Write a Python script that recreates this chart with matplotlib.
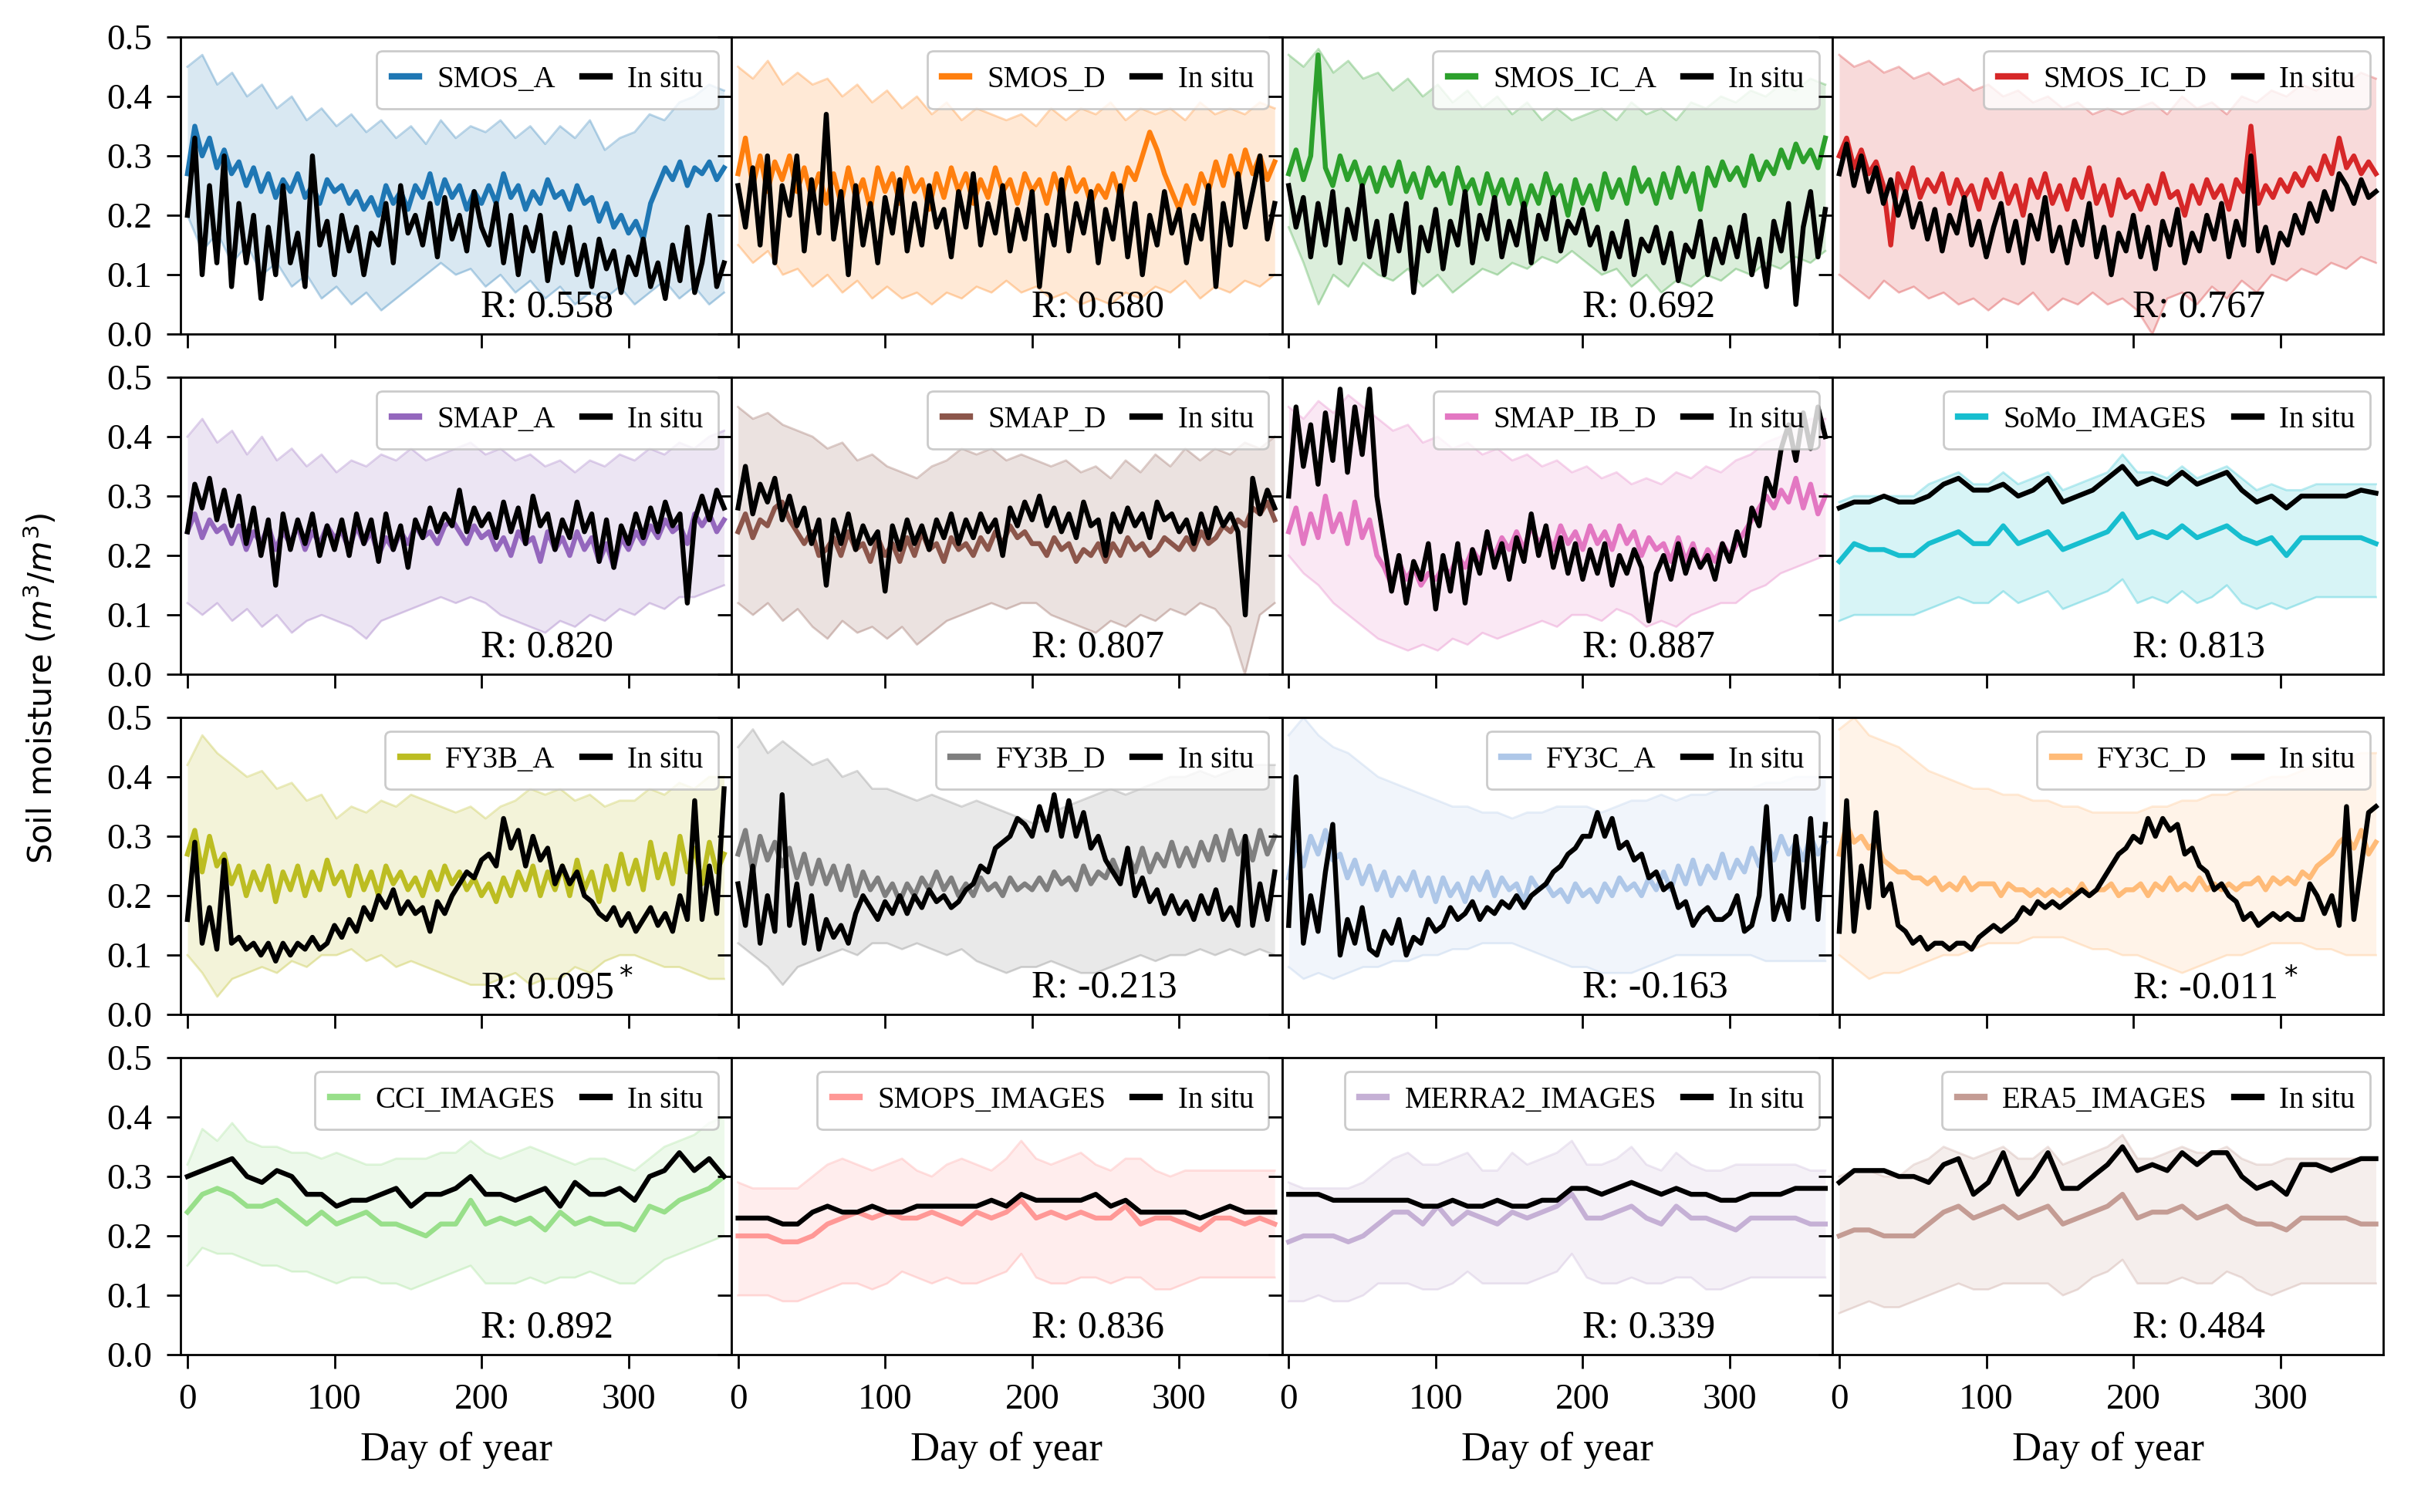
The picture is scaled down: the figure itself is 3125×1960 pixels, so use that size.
import numpy as np
import matplotlib
matplotlib.use("Agg")
import matplotlib.pyplot as plt
from matplotlib.ticker import FormatStrFormatter

plt.rcParams['font.family'] = ['Liberation Serif', 'DejaVu Serif']

# ---- data (soil moisture, m3/m3) ----
# lines: 74 points over day 0..365, bands: 37 points over day 0..365

smos_a_mean = [0.27,0.35,0.30,0.33,0.28,0.31,0.27, 0.29,0.25,0.28,0.24,0.27,0.23,
    0.26,0.24,0.27,0.23,0.25,0.22,0.26,0.24, 0.25,0.22,0.24,0.21,0.23,0.20,0.25,0.22,0.24,0.21,
    0.25,0.23,0.27,0.22,0.26,0.23,0.25,0.21,0.24,0.22, 0.25,0.22,0.27,0.23,0.25,0.21,0.24,0.22,0.26,0.23,
    0.24,0.21,0.25,0.22,0.23,0.19,0.22,0.18,0.20,0.17, 0.19,0.16,0.22,0.25,0.28,0.26,0.29,0.25,0.28,
    0.27,0.29,0.26,0.28]
smos_a_insitu = [0.20,0.33,0.10,0.25,0.12,0.30,0.08, 0.22,0.12,0.20,0.06,0.18,0.10,
    0.25,0.12,0.17,0.08,0.30,0.15,0.19,0.10, 0.20,0.14,0.18,0.10,0.17,0.15,0.22,0.12,0.25,0.17,
    0.20,0.15,0.22,0.13,0.23,0.16,0.20,0.14,0.24,0.18, 0.15,0.22,0.12,0.20,0.10,0.18,0.14,0.20,0.09,0.17,
    0.12,0.18,0.10,0.15,0.08,0.16,0.11,0.14,0.07,0.13, 0.10,0.16,0.08,0.12,0.06,0.15,0.09,0.18,0.07,
    0.12,0.20,0.08,0.12]
smos_a_hi = [0.45,0.47,0.42,0.44,0.40,0.42,0.38,0.40,0.36,0.38, 0.35,0.37,0.34,0.36,0.33,0.35,0.32,0.36,0.33,0.35,
    0.34,0.36,0.33,0.35,0.32,0.35,0.33,0.36,0.31,0.33, 0.34,0.37,0.36,0.39,0.40,0.42,0.41]
smos_a_lo = [0.20,0.14,0.17,0.12,0.15,0.10,0.12,0.08,0.10,0.06, 0.08,0.05,0.07,0.04,0.06,0.08,0.10,0.12,0.10,0.11,
    0.08,0.10,0.07,0.09,0.06,0.08,0.05,0.07,0.06,0.08, 0.05,0.07,0.09,0.06,0.08,0.05,0.07]

smos_d_mean = [0.27,0.33,0.25,0.30,0.24,0.29,0.26, 0.30,0.24,0.28,0.23,0.27,0.22,
    0.27,0.22,0.28,0.23,0.26,0.21,0.28,0.24, 0.27,0.22,0.28,0.24,0.26,0.21,0.27,0.23,0.28,0.24,
    0.27,0.22,0.26,0.23,0.28,0.24,0.26,0.22,0.27,0.24, 0.26,0.22,0.27,0.23,0.28,0.24,0.26,0.22,0.25,0.23,
    0.27,0.23,0.28,0.26,0.30,0.34,0.31,0.27,0.24,0.21, 0.25,0.22,0.27,0.24,0.29,0.25,0.30,0.26,0.31,
    0.27,0.30,0.26,0.29]
smos_d_insitu = [0.25,0.18,0.28,0.15,0.30,0.12,0.25, 0.20,0.30,0.14,0.26,0.17,0.37,
    0.16,0.24,0.10,0.25,0.15,0.22,0.12,0.23, 0.17,0.26,0.14,0.22,0.15,0.25,0.18,0.21,0.13,0.24,
    0.18,0.27,0.15,0.22,0.17,0.25,0.14,0.21,0.16,0.24, 0.08,0.20,0.15,0.26,0.14,0.22,0.17,0.24,0.12,0.21,
    0.16,0.25,0.13,0.22,0.10,0.20,0.15,0.24,0.17,0.21, 0.12,0.20,0.16,0.25,0.08,0.22,0.15,0.27,0.18,
    0.24,0.30,0.16,0.22]
smos_d_hi = [0.45,0.43,0.46,0.42,0.44,0.42,0.43,0.40,0.42,0.39, 0.41,0.38,0.40,0.37,0.39,0.36,0.38,0.37,0.36,0.37,
    0.35,0.38,0.36,0.38,0.37,0.39,0.36,0.38,0.37,0.38, 0.36,0.39,0.37,0.38,0.37,0.39,0.38]
smos_d_lo = [0.15,0.12,0.14,0.10,0.11,0.08,0.10,0.07,0.09,0.06, 0.08,0.06,0.07,0.05,0.07,0.06,0.08,0.07,0.09,0.07,
    0.08,0.06,0.07,0.05,0.06,0.05,0.07,0.06,0.08,0.07, 0.09,0.06,0.08,0.07,0.09,0.08,0.10]

smos_ic_a_mean = [0.27,0.31,0.26,0.30,0.47,0.28,0.25, 0.30,0.26,0.29,0.25,0.28,0.24,
    0.28,0.25,0.29,0.24,0.27,0.23,0.28,0.25, 0.27,0.22,0.28,0.24,0.26,0.22,0.27,0.23,0.26,0.22,
    0.26,0.21,0.25,0.22,0.27,0.23,0.25,0.20,0.26,0.22, 0.25,0.21,0.27,0.23,0.26,0.22,0.28,0.24,0.26,0.22,
    0.27,0.23,0.28,0.24,0.27,0.21,0.28,0.25,0.29,0.26, 0.28,0.25,0.30,0.26,0.29,0.27,0.31,0.28,0.32,
    0.29,0.31,0.28,0.33]
smos_ic_a_insitu = [0.25,0.18,0.23,0.13,0.22,0.15,0.24, 0.12,0.21,0.16,0.25,0.13,0.19,
    0.10,0.20,0.14,0.22,0.07,0.18,0.14,0.21, 0.11,0.19,0.15,0.24,0.12,0.20,0.16,0.23,0.13,0.19,
    0.15,0.22,0.12,0.20,0.16,0.23,0.14,0.19,0.17,0.21, 0.15,0.18,0.11,0.17,0.13,0.19,0.10,0.16,0.14,0.18,
    0.12,0.17,0.09,0.15,0.13,0.19,0.10,0.16,0.12,0.18, 0.13,0.20,0.10,0.16,0.08,0.19,0.14,0.22,0.05,
    0.18,0.24,0.13,0.21]
smos_ic_a_hi = [0.47,0.45,0.48,0.44,0.46,0.43,0.44,0.41,0.43,0.40, 0.42,0.39,0.41,0.38,0.40,0.37,0.39,0.36,0.38,0.36,
    0.37,0.38,0.36,0.39,0.37,0.38,0.36,0.39,0.38,0.40, 0.39,0.41,0.40,0.42,0.41,0.43,0.42]
smos_ic_a_lo = [0.18,0.12,0.05,0.10,0.08,0.12,0.10,0.09,0.11,0.08, 0.10,0.07,0.09,0.11,0.10,0.12,0.11,0.13,0.12,0.14,
    0.12,0.10,0.11,0.08,0.10,0.07,0.09,0.08,0.10,0.09, 0.11,0.10,0.12,0.11,0.13,0.12,0.14]

smos_ic_d_mean = [0.30,0.33,0.28,0.31,0.27,0.29,0.25, 0.15,0.27,0.24,0.28,0.23,0.26,
    0.24,0.27,0.22,0.26,0.23,0.25,0.21,0.26, 0.23,0.27,0.22,0.25,0.20,0.26,0.23,0.27,0.22,0.25,
    0.21,0.26,0.23,0.28,0.22,0.25,0.20,0.26,0.23,0.24, 0.21,0.25,0.22,0.27,0.23,0.24,0.20,0.25,0.22,0.26,
    0.23,0.25,0.21,0.26,0.24,0.35,0.22,0.25,0.23,0.26, 0.24,0.27,0.25,0.28,0.26,0.30,0.27,0.33,0.28,
    0.30,0.27,0.29,0.27]
smos_ic_d_insitu = [0.27,0.32,0.25,0.30,0.24,0.28,0.22, 0.26,0.20,0.24,0.18,0.22,0.16,
    0.21,0.14,0.20,0.17,0.23,0.15,0.19,0.13, 0.18,0.22,0.14,0.19,0.12,0.20,0.16,0.23,0.14,0.18,
    0.12,0.19,0.15,0.22,0.13,0.18,0.10,0.17,0.14,0.20, 0.13,0.18,0.11,0.19,0.15,0.21,0.12,0.17,0.14,0.20,
    0.16,0.22,0.13,0.19,0.15,0.30,0.14,0.18,0.12,0.17, 0.15,0.20,0.17,0.22,0.19,0.24,0.21,0.27,0.25,
    0.22,0.26,0.23,0.24]
smos_ic_d_hi = [0.47,0.45,0.46,0.44,0.45,0.43,0.44,0.42,0.43,0.41, 0.42,0.40,0.41,0.39,0.40,0.38,0.39,0.37,0.38,0.37,
    0.38,0.39,0.37,0.40,0.38,0.39,0.37,0.40,0.39,0.41, 0.40,0.42,0.41,0.43,0.42,0.44,0.43]
smos_ic_d_lo = [0.10,0.08,0.06,0.09,0.07,0.08,0.06,0.07,0.05,0.06, 0.04,0.06,0.05,0.07,0.04,0.06,0.05,0.07,0.05,0.06,
    0.04,0.00,0.06,0.07,0.05,0.08,0.06,0.09,0.07,0.10, 0.09,0.11,0.10,0.12,0.11,0.13,0.12]

smap_a_mean = [0.24,0.27,0.23,0.26,0.24,0.25,0.22, 0.25,0.21,0.24,0.22,0.25,0.21,
    0.24,0.22,0.25,0.21,0.24,0.22,0.25,0.23, 0.24,0.21,0.25,0.22,0.24,0.20,0.23,0.21,0.24,0.22,
    0.25,0.23,0.24,0.22,0.25,0.26,0.24,0.22,0.25,0.23, 0.24,0.21,0.23,0.20,0.24,0.22,0.23,0.19,0.24,0.21,
    0.23,0.20,0.24,0.21,0.23,0.19,0.22,0.18,0.23,0.21, 0.24,0.22,0.25,0.23,0.26,0.24,0.25,0.22,0.27,
    0.25,0.27,0.24,0.26]
smap_a_insitu = [0.24,0.32,0.28,0.33,0.26,0.31,0.25, 0.30,0.22,0.28,0.20,0.26,0.15,
    0.27,0.21,0.26,0.22,0.27,0.20,0.25,0.21, 0.26,0.20,0.27,0.22,0.26,0.19,0.27,0.21,0.25,0.18,
    0.26,0.23,0.28,0.24,0.27,0.25,0.31,0.24,0.28,0.25, 0.27,0.23,0.29,0.24,0.28,0.22,0.30,0.25,0.27,0.21,
    0.26,0.23,0.29,0.24,0.27,0.19,0.26,0.18,0.25,0.22, 0.27,0.23,0.28,0.24,0.29,0.25,0.27,0.12,0.26,
    0.30,0.26,0.31,0.28]
smap_a_hi = [0.40,0.43,0.39,0.41,0.37,0.40,0.36,0.38,0.35,0.37, 0.34,0.36,0.35,0.37,0.36,0.38,0.36,0.37,0.38,0.39,
    0.37,0.38,0.36,0.37,0.35,0.36,0.34,0.36,0.35,0.37, 0.36,0.38,0.37,0.39,0.38,0.40,0.41]
smap_a_lo = [0.12,0.10,0.12,0.09,0.11,0.08,0.10,0.07,0.09,0.10, 0.09,0.08,0.06,0.09,0.10,0.11,0.12,0.13,0.12,0.13,
    0.12,0.10,0.09,0.08,0.07,0.09,0.08,0.10,0.09,0.11, 0.10,0.12,0.11,0.13,0.13,0.14,0.15]

smap_d_mean = [0.24,0.27,0.23,0.26,0.25,0.28,0.29, 0.26,0.24,0.22,0.24,0.20,0.21,
    0.23,0.20,0.24,0.21,0.22,0.19,0.23,0.20, 0.22,0.19,0.23,0.20,0.24,0.21,0.22,0.19,0.23,0.21,
    0.22,0.20,0.23,0.21,0.24,0.22,0.25,0.23,0.24,0.22, 0.22,0.20,0.23,0.21,0.22,0.19,0.21,0.20,0.22,0.19,
    0.22,0.20,0.23,0.21,0.22,0.20,0.21,0.23,0.22,0.21, 0.23,0.21,0.24,0.22,0.23,0.25,0.24,0.26,0.25,
    0.28,0.27,0.29,0.26]
smap_d_insitu = [0.28,0.35,0.27,0.32,0.29,0.33,0.26, 0.30,0.25,0.28,0.22,0.26,0.15,
    0.26,0.22,0.27,0.21,0.25,0.22,0.24,0.14, 0.25,0.21,0.26,0.22,0.25,0.21,0.26,0.23,0.27,0.22,
    0.26,0.23,0.27,0.24,0.26,0.20,0.28,0.25,0.29,0.26, 0.30,0.25,0.28,0.24,0.27,0.23,0.29,0.25,0.26,0.20,
    0.27,0.24,0.28,0.25,0.27,0.23,0.29,0.26,0.27,0.24, 0.26,0.22,0.27,0.23,0.28,0.25,0.27,0.24,0.10,
    0.33,0.27,0.31,0.28]
smap_d_hi = [0.45,0.43,0.44,0.42,0.41,0.40,0.38,0.39,0.36,0.37, 0.35,0.34,0.33,0.35,0.36,0.38,0.37,0.38,0.36,0.37,
    0.36,0.35,0.36,0.34,0.35,0.33,0.36,0.34,0.37,0.35, 0.38,0.36,0.38,0.37,0.39,0.38,0.40]
smap_d_lo = [0.12,0.10,0.12,0.09,0.11,0.08,0.06,0.09,0.07,0.08, 0.06,0.08,0.05,0.07,0.09,0.10,0.11,0.12,0.11,0.12,
    0.12,0.10,0.09,0.08,0.07,0.09,0.08,0.10,0.09,0.11, 0.10,0.12,0.11,0.08,0.00,0.10,0.12]

smap_ib_d_mean = [0.24,0.28,0.22,0.27,0.23,0.30,0.24, 0.27,0.22,0.29,0.23,0.26,0.20,
    0.18,0.15,0.19,0.16,0.18,0.15,0.17,0.16, 0.18,0.17,0.20,0.18,0.21,0.19,0.22,0.20,0.23,0.21,
    0.24,0.21,0.25,0.22,0.24,0.21,0.25,0.22,0.24,0.21, 0.25,0.22,0.24,0.21,0.25,0.22,0.24,0.20,0.23,0.21,
    0.22,0.19,0.23,0.19,0.22,0.18,0.21,0.19,0.22,0.20, 0.22,0.24,0.26,0.28,0.30,0.28,0.31,0.29,0.33,
    0.28,0.32,0.27,0.30]
smap_ib_d_insitu = [0.30,0.45,0.35,0.42,0.32,0.44,0.36, 0.48,0.34,0.45,0.37,0.48,0.30,
    0.22,0.14,0.20,0.12,0.19,0.16,0.22,0.11, 0.20,0.14,0.22,0.12,0.21,0.17,0.24,0.18,0.22,0.16,
    0.23,0.19,0.27,0.20,0.25,0.18,0.23,0.17,0.22,0.16, 0.21,0.17,0.22,0.15,0.20,0.17,0.21,0.18,0.09,0.17,
    0.20,0.16,0.22,0.17,0.21,0.18,0.20,0.16,0.22,0.19, 0.24,0.20,0.28,0.25,0.33,0.30,0.38,0.42,0.36,
    0.44,0.38,0.45,0.40]
smap_ib_d_hi = [0.45,0.43,0.46,0.44,0.47,0.45,0.43,0.41,0.42,0.39, 0.40,0.38,0.39,0.37,0.38,0.36,0.37,0.35,0.36,0.34,
    0.35,0.33,0.34,0.32,0.33,0.32,0.34,0.33,0.35,0.34, 0.36,0.37,0.39,0.40,0.42,0.43,0.43]
smap_ib_d_lo = [0.20,0.17,0.15,0.12,0.10,0.08,0.06,0.05,0.04,0.05, 0.04,0.06,0.05,0.07,0.06,0.07,0.08,0.09,0.08,0.10,
    0.10,0.09,0.11,0.10,0.08,0.09,0.08,0.10,0.11,0.12, 0.12,0.14,0.15,0.17,0.18,0.19,0.20]

somo_mean = [0.19,0.22,0.21,0.21,0.20,0.20,0.22,0.23,0.24,0.22, 0.22,0.25,0.22,0.23,0.24,0.21,0.22,0.23,0.24,0.27,
    0.23,0.24,0.23,0.25,0.23,0.24,0.25,0.23,0.22,0.23, 0.20,0.23,0.23,0.23,0.23,0.23,0.22]
somo_insitu = [0.28,0.29,0.29,0.30,0.29,0.29,0.30,0.32,0.33,0.31, 0.31,0.32,0.30,0.31,0.33,0.29,0.30,0.31,0.33,0.35,
    0.32,0.33,0.32,0.34,0.32,0.33,0.34,0.31,0.29,0.30, 0.28,0.30,0.30,0.30,0.30,0.31,0.305]
somo_hi = [0.29,0.30,0.30,0.30,0.30,0.30,0.32,0.33,0.34,0.32, 0.32,0.34,0.32,0.33,0.34,0.31,0.32,0.33,0.34,0.37,
    0.34,0.34,0.33,0.35,0.33,0.34,0.35,0.33,0.31,0.32, 0.31,0.31,0.32,0.32,0.32,0.32,0.32]
somo_lo = [0.09,0.10,0.10,0.10,0.10,0.10,0.11,0.12,0.13,0.12, 0.12,0.14,0.12,0.13,0.14,0.11,0.12,0.13,0.14,0.16,
    0.12,0.13,0.12,0.14,0.12,0.13,0.15,0.12,0.11,0.12, 0.11,0.12,0.13,0.13,0.13,0.13,0.13]

fy3b_a_mean = [0.27,0.31,0.24,0.30,0.25,0.27,0.22, 0.25,0.20,0.24,0.21,0.25,0.19,
    0.24,0.21,0.25,0.20,0.24,0.21,0.26,0.22, 0.24,0.20,0.25,0.21,0.24,0.20,0.25,0.22,0.24,0.21,
    0.23,0.20,0.24,0.21,0.25,0.22,0.24,0.21,0.23,0.20, 0.22,0.19,0.23,0.20,0.24,0.21,0.25,0.20,0.24,0.21,
    0.25,0.20,0.26,0.21,0.24,0.19,0.25,0.21,0.27,0.22, 0.26,0.21,0.29,0.23,0.27,0.22,0.30,0.24,0.28,
    0.22,0.29,0.24,0.27]
fy3b_a_insitu = [0.16,0.29,0.12,0.18,0.11,0.26,0.12, 0.13,0.11,0.12,0.10,0.12,0.09,
    0.12,0.10,0.12,0.11,0.13,0.11,0.12,0.15, 0.13,0.16,0.14,0.18,0.16,0.20,0.18,0.21,0.17,0.19,
    0.17,0.18,0.14,0.19,0.17,0.20,0.22,0.24,0.23,0.26, 0.27,0.25,0.33,0.28,0.31,0.25,0.30,0.26,0.28,0.22,
    0.25,0.22,0.24,0.20,0.19,0.17,0.16,0.18,0.15,0.17, 0.14,0.16,0.18,0.15,0.17,0.14,0.20,0.16,0.36,
    0.16,0.25,0.17,0.38]
fy3b_a_hi = [0.42,0.47,0.44,0.42,0.40,0.41,0.38,0.39,0.36,0.37, 0.33,0.35,0.34,0.36,0.35,0.37,0.36,0.35,0.34,0.35,
    0.33,0.35,0.36,0.38,0.37,0.38,0.36,0.37,0.35,0.36, 0.36,0.38,0.37,0.39,0.38,0.40,0.40]
fy3b_a_lo = [0.10,0.07,0.03,0.06,0.07,0.08,0.07,0.09,0.08,0.10, 0.10,0.11,0.09,0.10,0.08,0.09,0.08,0.07,0.06,0.05,
    0.05,0.06,0.07,0.05,0.06,0.06,0.08,0.07,0.09,0.10, 0.10,0.09,0.08,0.08,0.07,0.06,0.06]

fy3b_d_mean = [0.27,0.31,0.24,0.30,0.26,0.29,0.25, 0.28,0.23,0.27,0.22,0.26,0.22,
    0.25,0.21,0.25,0.20,0.24,0.21,0.23,0.20, 0.22,0.19,0.22,0.20,0.23,0.21,0.24,0.21,0.23,0.20,
    0.22,0.20,0.23,0.21,0.22,0.20,0.23,0.21,0.22,0.21, 0.23,0.21,0.24,0.22,0.23,0.21,0.25,0.22,0.24,0.23,
    0.26,0.23,0.27,0.24,0.28,0.24,0.27,0.25,0.29,0.25, 0.28,0.25,0.29,0.26,0.30,0.26,0.31,0.27,0.30,
    0.26,0.31,0.27,0.30]
fy3b_d_insitu = [0.22,0.15,0.25,0.12,0.20,0.14,0.37, 0.15,0.22,0.12,0.20,0.11,0.16,
    0.13,0.15,0.12,0.17,0.20,0.18,0.16,0.19, 0.17,0.20,0.17,0.20,0.18,0.21,0.19,0.20,0.18,0.19,
    0.21,0.22,0.25,0.24,0.28,0.29,0.30,0.33,0.32,0.30, 0.35,0.31,0.37,0.30,0.36,0.30,0.34,0.28,0.30,0.26,
    0.24,0.22,0.28,0.20,0.23,0.19,0.21,0.17,0.20,0.17, 0.19,0.16,0.20,0.17,0.21,0.16,0.18,0.15,0.30,
    0.15,0.22,0.16,0.24]
fy3b_d_hi = [0.45,0.48,0.44,0.46,0.44,0.42,0.43,0.40,0.41,0.38, 0.38,0.37,0.36,0.37,0.36,0.35,0.36,0.35,0.34,0.33,
    0.32,0.34,0.35,0.36,0.37,0.38,0.37,0.38,0.39,0.40, 0.40,0.41,0.40,0.41,0.42,0.42,0.42]
fy3b_d_lo = [0.12,0.10,0.08,0.05,0.08,0.09,0.10,0.11,0.10,0.12, 0.12,0.11,0.12,0.11,0.10,0.11,0.09,0.08,0.07,0.08,
    0.08,0.09,0.08,0.07,0.07,0.08,0.09,0.10,0.09,0.10, 0.10,0.11,0.10,0.11,0.10,0.11,0.10]

fy3c_a_mean = [0.23,0.29,0.25,0.30,0.27,0.31,0.26, 0.27,0.23,0.26,0.22,0.25,0.21,
    0.24,0.20,0.23,0.21,0.24,0.20,0.23,0.19, 0.23,0.20,0.22,0.19,0.23,0.21,0.24,0.20,0.23,0.21,
    0.22,0.19,0.23,0.21,0.22,0.20,0.21,0.19,0.22,0.20, 0.21,0.19,0.22,0.20,0.23,0.21,0.22,0.20,0.23,0.21,
    0.24,0.21,0.25,0.22,0.26,0.22,0.25,0.23,0.27,0.23, 0.26,0.24,0.28,0.25,0.29,0.26,0.30,0.27,0.29,
    0.26,0.30,0.27,0.29]
fy3c_a_insitu = [0.15,0.40,0.12,0.20,0.14,0.24,0.32, 0.10,0.16,0.12,0.18,0.11,0.10,
    0.14,0.12,0.16,0.10,0.13,0.12,0.16,0.14, 0.15,0.18,0.16,0.17,0.19,0.16,0.18,0.17,0.19,0.18,
    0.20,0.18,0.20,0.21,0.22,0.24,0.25,0.27,0.28,0.30, 0.30,0.34,0.30,0.33,0.28,0.29,0.26,0.27,0.23,0.24,
    0.21,0.22,0.18,0.19,0.15,0.17,0.18,0.16,0.16,0.17, 0.20,0.14,0.15,0.20,0.35,0.16,0.20,0.16,0.30,
    0.18,0.33,0.16,0.32]
fy3c_a_hi = [0.47,0.50,0.47,0.45,0.44,0.42,0.40,0.39,0.38,0.37, 0.36,0.35,0.35,0.34,0.34,0.33,0.34,0.34,0.35,0.35,
    0.35,0.34,0.35,0.36,0.36,0.37,0.36,0.37,0.37,0.38, 0.38,0.38,0.39,0.39,0.40,0.40,0.40]
fy3c_a_lo = [0.08,0.06,0.07,0.06,0.07,0.08,0.08,0.09,0.09,0.10, 0.10,0.11,0.11,0.12,0.12,0.12,0.11,0.10,0.09,0.08,
    0.08,0.07,0.07,0.07,0.08,0.09,0.10,0.10,0.10,0.10, 0.10,0.10,0.09,0.09,0.09,0.09,0.09]

fy3c_d_mean = [0.27,0.32,0.29,0.30,0.28,0.29,0.26, 0.25,0.24,0.24,0.23,0.23,0.22,
    0.23,0.21,0.22,0.21,0.23,0.21,0.22,0.22, 0.22,0.20,0.22,0.21,0.21,0.20,0.21,0.20,0.21,0.20,
    0.21,0.20,0.22,0.20,0.21,0.21,0.22,0.20,0.21,0.21, 0.22,0.20,0.22,0.21,0.23,0.21,0.22,0.21,0.23,0.21,
    0.22,0.21,0.22,0.21,0.22,0.22,0.23,0.21,0.23,0.22, 0.23,0.22,0.24,0.23,0.25,0.26,0.27,0.29,0.30,
    0.28,0.31,0.27,0.29]
fy3c_d_insitu = [0.14,0.36,0.14,0.25,0.18,0.34,0.20, 0.22,0.15,0.14,0.12,0.13,0.11,
    0.12,0.12,0.11,0.12,0.12,0.11,0.13,0.14, 0.15,0.14,0.15,0.16,0.18,0.17,0.19,0.18,0.19,0.18,
    0.19,0.20,0.21,0.20,0.21,0.23,0.25,0.27,0.28,0.30, 0.29,0.33,0.30,0.33,0.31,0.32,0.27,0.28,0.25,0.24,
    0.21,0.22,0.20,0.19,0.16,0.17,0.15,0.16,0.17,0.16, 0.17,0.16,0.16,0.22,0.20,0.17,0.20,0.15,0.35,
    0.16,0.25,0.34,0.35]
fy3c_d_hi = [0.48,0.50,0.47,0.46,0.45,0.43,0.41,0.40,0.39,0.38, 0.38,0.37,0.37,0.36,0.36,0.35,0.35,0.34,0.34,0.34,
    0.34,0.35,0.35,0.36,0.36,0.37,0.37,0.38,0.39,0.40, 0.40,0.41,0.42,0.43,0.43,0.44,0.44]
fy3c_d_lo = [0.10,0.08,0.06,0.07,0.07,0.08,0.09,0.10,0.10,0.11, 0.12,0.12,0.12,0.13,0.13,0.13,0.12,0.11,0.11,0.10,
    0.10,0.09,0.08,0.07,0.08,0.09,0.10,0.10,0.11,0.12, 0.12,0.12,0.11,0.11,0.10,0.10,0.10]

cci_mean = [0.24,0.27,0.28,0.27,0.25,0.25,0.26,0.24,0.22,0.24, 0.22,0.23,0.24,0.22,0.22,0.21,0.20,0.22,0.22,0.26,
    0.22,0.23,0.22,0.23,0.21,0.24,0.22,0.23,0.22,0.22, 0.21,0.25,0.24,0.26,0.27,0.28,0.30]
cci_insitu = [0.30,0.31,0.32,0.33,0.30,0.29,0.31,0.30,0.27,0.27, 0.25,0.26,0.26,0.27,0.28,0.25,0.27,0.27,0.28,0.30,
    0.27,0.27,0.26,0.27,0.28,0.25,0.29,0.27,0.27,0.28, 0.26,0.30,0.31,0.34,0.31,0.33,0.30]
cci_hi = [0.32,0.38,0.36,0.39,0.36,0.35,0.35,0.34,0.34,0.33, 0.34,0.33,0.32,0.32,0.33,0.33,0.33,0.34,0.34,0.36,
    0.34,0.33,0.34,0.35,0.34,0.33,0.32,0.33,0.33,0.32, 0.31,0.33,0.35,0.36,0.37,0.39,0.40]
cci_lo = [0.15,0.18,0.17,0.17,0.16,0.15,0.15,0.14,0.14,0.13, 0.12,0.13,0.13,0.12,0.12,0.11,0.12,0.13,0.14,0.15,
    0.12,0.12,0.12,0.13,0.12,0.13,0.13,0.14,0.13,0.12, 0.12,0.14,0.16,0.17,0.18,0.19,0.20]

smops_mean = [0.20,0.20,0.20,0.19,0.19,0.20,0.22,0.23,0.24,0.23, 0.24,0.23,0.23,0.24,0.23,0.22,0.24,0.23,0.24,0.26,
    0.23,0.24,0.23,0.24,0.23,0.23,0.25,0.22,0.23,0.23, 0.22,0.21,0.23,0.23,0.22,0.23,0.22]
smops_insitu = [0.23,0.23,0.23,0.22,0.22,0.24,0.25,0.24,0.24,0.25, 0.24,0.24,0.25,0.25,0.25,0.25,0.25,0.26,0.25,0.27,
    0.26,0.26,0.26,0.26,0.27,0.25,0.26,0.24,0.24,0.24, 0.24,0.23,0.24,0.25,0.24,0.24,0.24]
smops_hi = [0.29,0.28,0.28,0.28,0.28,0.30,0.32,0.33,0.32,0.31, 0.32,0.33,0.31,0.30,0.32,0.33,0.32,0.31,0.33,0.36,
    0.33,0.32,0.33,0.34,0.32,0.31,0.33,0.33,0.31,0.30, 0.31,0.31,0.31,0.31,0.31,0.31,0.31]
smops_lo = [0.10,0.10,0.10,0.09,0.09,0.10,0.11,0.12,0.12,0.11, 0.12,0.14,0.13,0.12,0.13,0.12,0.12,0.13,0.14,0.17,
    0.13,0.12,0.12,0.13,0.13,0.12,0.13,0.13,0.11,0.11, 0.12,0.13,0.13,0.13,0.13,0.13,0.13]

merra2_mean = [0.19,0.20,0.20,0.20,0.19,0.20,0.22,0.24,0.24,0.22, 0.25,0.22,0.24,0.23,0.22,0.24,0.23,0.24,0.25,0.27,
    0.23,0.23,0.24,0.25,0.23,0.22,0.25,0.23,0.23,0.22, 0.21,0.23,0.23,0.23,0.23,0.22,0.22]
merra2_insitu = [0.27,0.27,0.27,0.26,0.26,0.26,0.26,0.26,0.26,0.25, 0.25,0.26,0.25,0.25,0.26,0.25,0.25,0.26,0.26,0.28,
    0.28,0.27,0.28,0.29,0.28,0.27,0.28,0.27,0.27,0.26, 0.26,0.27,0.27,0.27,0.28,0.28,0.28]
merra2_hi = [0.29,0.28,0.28,0.28,0.28,0.29,0.31,0.33,0.34,0.32, 0.32,0.33,0.34,0.31,0.31,0.34,0.32,0.33,0.34,0.36,
    0.32,0.32,0.33,0.35,0.32,0.31,0.34,0.32,0.31,0.31, 0.32,0.32,0.32,0.32,0.32,0.31,0.31]
merra2_lo = [0.09,0.09,0.10,0.09,0.09,0.10,0.12,0.12,0.12,0.11, 0.11,0.12,0.14,0.12,0.12,0.12,0.12,0.13,0.14,0.17,
    0.13,0.12,0.12,0.13,0.12,0.12,0.13,0.13,0.11,0.11, 0.12,0.13,0.13,0.13,0.13,0.13,0.13]

era5_mean = [0.20,0.21,0.21,0.20,0.20,0.20,0.22,0.24,0.25,0.23, 0.24,0.25,0.23,0.24,0.25,0.22,0.23,0.24,0.25,0.27,
    0.23,0.24,0.24,0.25,0.23,0.24,0.25,0.23,0.22,0.22, 0.21,0.23,0.23,0.23,0.23,0.22,0.22]
era5_insitu = [0.29,0.31,0.31,0.31,0.30,0.30,0.29,0.32,0.33,0.27, 0.29,0.34,0.27,0.30,0.34,0.28,0.28,0.30,0.32,0.35,
    0.31,0.32,0.31,0.34,0.32,0.34,0.34,0.30,0.28,0.29, 0.27,0.32,0.32,0.31,0.32,0.33,0.33]
era5_hi = [0.30,0.31,0.31,0.30,0.30,0.32,0.33,0.35,0.34,0.33, 0.34,0.35,0.33,0.33,0.35,0.32,0.33,0.34,0.35,0.37,
    0.33,0.33,0.34,0.35,0.34,0.34,0.35,0.33,0.32,0.32, 0.33,0.33,0.33,0.33,0.33,0.33,0.33]
era5_lo = [0.07,0.08,0.09,0.08,0.08,0.09,0.10,0.11,0.12,0.11, 0.11,0.12,0.12,0.12,0.12,0.10,0.11,0.13,0.14,0.16,
    0.12,0.12,0.12,0.13,0.12,0.12,0.14,0.13,0.11,0.10, 0.11,0.12,0.12,0.12,0.12,0.12,0.12]

names = ["SMOS_A", "SMOS_D", "SMOS_IC_A", "SMOS_IC_D",
         "SMAP_A", "SMAP_D", "SMAP_IB_D", "SoMo_IMAGES",
         "FY3B_A", "FY3B_D", "FY3C_A", "FY3C_D",
         "CCI_IMAGES", "SMOPS_IMAGES", "MERRA2_IMAGES", "ERA5_IMAGES"]
colors = ["#1f77b4", "#ff7f0e", "#2ca02c", "#d62728",
          "#9467bd", "#8c564b", "#e377c2", "#17becf",
          "#bcbd22", "#7f7f7f", "#aec7e8", "#ffbb78",
          "#98df8a", "#ff9896", "#c5b0d5", "#c49c94"]
r_labels = ["R: 0.558", "R: 0.680", "R: 0.692", "R: 0.767",
            "R: 0.820", "R: 0.807", "R: 0.887", "R: 0.813",
            "R: 0.095$^*$", "R: -0.213", "R: -0.163", "R: -0.011$^*$",
            "R: 0.892", "R: 0.836", "R: 0.339", "R: 0.484"]

means = [smos_a_mean, smos_d_mean, smos_ic_a_mean, smos_ic_d_mean,
         smap_a_mean, smap_d_mean, smap_ib_d_mean, somo_mean,
         fy3b_a_mean, fy3b_d_mean, fy3c_a_mean, fy3c_d_mean,
         cci_mean, smops_mean, merra2_mean, era5_mean]
insitus = [smos_a_insitu, smos_d_insitu, smos_ic_a_insitu, smos_ic_d_insitu,
           smap_a_insitu, smap_d_insitu, smap_ib_d_insitu, somo_insitu,
           fy3b_a_insitu, fy3b_d_insitu, fy3c_a_insitu, fy3c_d_insitu,
           cci_insitu, smops_insitu, merra2_insitu, era5_insitu]
his = [smos_a_hi, smos_d_hi, smos_ic_a_hi, smos_ic_d_hi,
       smap_a_hi, smap_d_hi, smap_ib_d_hi, somo_hi,
       fy3b_a_hi, fy3b_d_hi, fy3c_a_hi, fy3c_d_hi,
       cci_hi, smops_hi, merra2_hi, era5_hi]
los = [smos_a_lo, smos_d_lo, smos_ic_a_lo, smos_ic_d_lo,
       smap_a_lo, smap_d_lo, smap_ib_d_lo, somo_lo,
       fy3b_a_lo, fy3b_d_lo, fy3c_a_lo, fy3c_d_lo,
       cci_lo, smops_lo, merra2_lo, era5_lo]


def days(v):
    return np.linspace(0, 365, len(v))


fig, axes = plt.subplots(4, 4, sharex=True, sharey=True, figsize=(15.625, 9.8), dpi=200)
fig.subplots_adjust(left=0.075, right=0.9885, top=0.9755, bottom=0.104, wspace=0, hspace=0.145)

for i, ax in enumerate(axes.flat):
    c = colors[i]
    lo, hi = los[i], his[i]
    ax.fill_between(days(lo), lo, hi, color=c, alpha=0.17, lw=0)
    ax.plot(days(hi), hi, color=c, alpha=0.3, lw=1)
    ax.plot(days(lo), lo, color=c, alpha=0.3, lw=1)
    l1, = ax.plot(days(means[i]), means[i], color=c, lw=2.3, label=names[i])
    l2, = ax.plot(days(insitus[i]), insitus[i], color='k', lw=2.3, label='In situ')
    leg = ax.legend(handles=[l1, l2], loc='upper right', ncol=2, fontsize=14,
                    handlelength=0.9, handletextpad=0.6, columnspacing=0.9,
                    borderpad=0.5, borderaxespad=0.45, framealpha=0.8, edgecolor='0.75')
    for h in leg.legend_handles:
        h.set_linewidth(3)
    ax.text(0.545, 0.09, r_labels[i], transform=ax.transAxes, fontsize=18,
            ha='left', va='center')
    ax.set_xlim(-4.5, 370)
    ax.set_ylim(0, 0.5)
    ax.set_xticks([0, 100, 200, 300])
    ax.set_yticks([0.0, 0.1, 0.2, 0.3, 0.4, 0.5])
    ax.yaxis.set_major_formatter(FormatStrFormatter('%.1f'))
    ax.tick_params(direction='out', length=6.5, width=1.0, labelsize=17, pad=7)
    for s in ax.spines.values():
        s.set_linewidth(1.0)

for ax in axes[-1]:
    ax.set_xlabel('Day of year', fontsize=19, labelpad=7)

fig.text(0.017, 0.545, 'Soil moisture ($m^3/m^3$)', rotation=90, ha='center', va='center',
         fontsize=15, family='DejaVu Sans')

fig.savefig('out.png', dpi=200)
